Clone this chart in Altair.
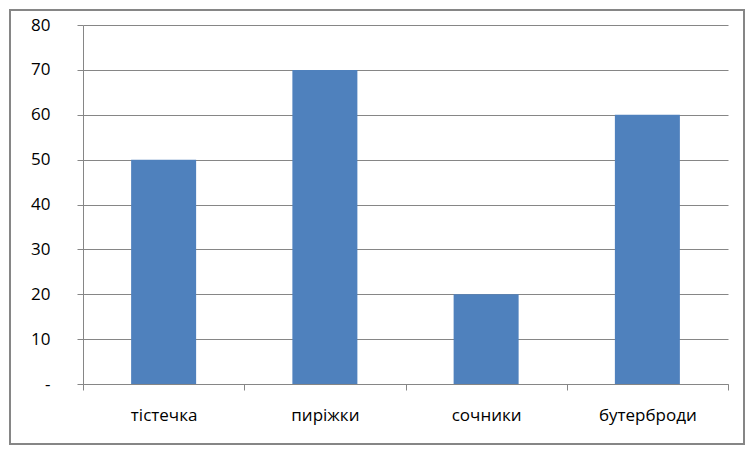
import altair as alt
import pandas as pd

categories = ["тістечка", "пиріжки", "сочники", "бутерброди"]
values = [50, 70, 20, 60]
y_ticks = [0, 10, 20, 30, 40, 50, 60, 70, 80]

df = pd.DataFrame({"cat": categories, "val": values})

W, H = 645, 359
FONT = "Open Sans"
GRID = "#868686"

bars = alt.Chart(df).mark_bar(size=65, color="#4F81BD").encode(
    x=alt.X("cat:N", sort=categories, title=None,
            scale=alt.Scale(paddingInner=0, paddingOuter=0),
            axis=alt.Axis(labelAngle=0, labelFontSize=17, labelFont=FONT,
                          labelColor="#000000", labelPadding=17,
                          tickBand="extent", tickSize=6, tickColor=GRID,
                          domainColor=GRID, grid=False)),
    y=alt.Y("val:Q", title=None,
            scale=alt.Scale(domain=[0, 80], nice=False),
            axis=alt.Axis(values=y_ticks, labelFontSize=17, labelFont=FONT,
                          labelColor="#000000", labelPadding=27,
                          labelExpr="datum.value == 0 ? '-' : datum.label",
                          tickSize=6, tickColor=GRID, domainColor=GRID,
                          grid=True, gridColor=GRID, gridOpacity=1)),
)

border = alt.Chart(pd.DataFrame({"a": [0]})).mark_rect(
    fill=None, stroke="#868686", strokeWidth=2, clip=False
).encode(
    x=alt.value(-73), x2=alt.value(W + 16),
    y=alt.value(-15), y2=alt.value(H + 60),
)

chart = alt.layer(bars, border).properties(
    width=W, height=H,
    padding={"left": 75, "top": 17, "right": 18, "bottom": 62},
    autosize=alt.AutoSizeParams(type="none"),
    background="white",
).configure_view(stroke=None)

chart.save("out.html", embed_options={"renderer": "svg", "actions": False})
